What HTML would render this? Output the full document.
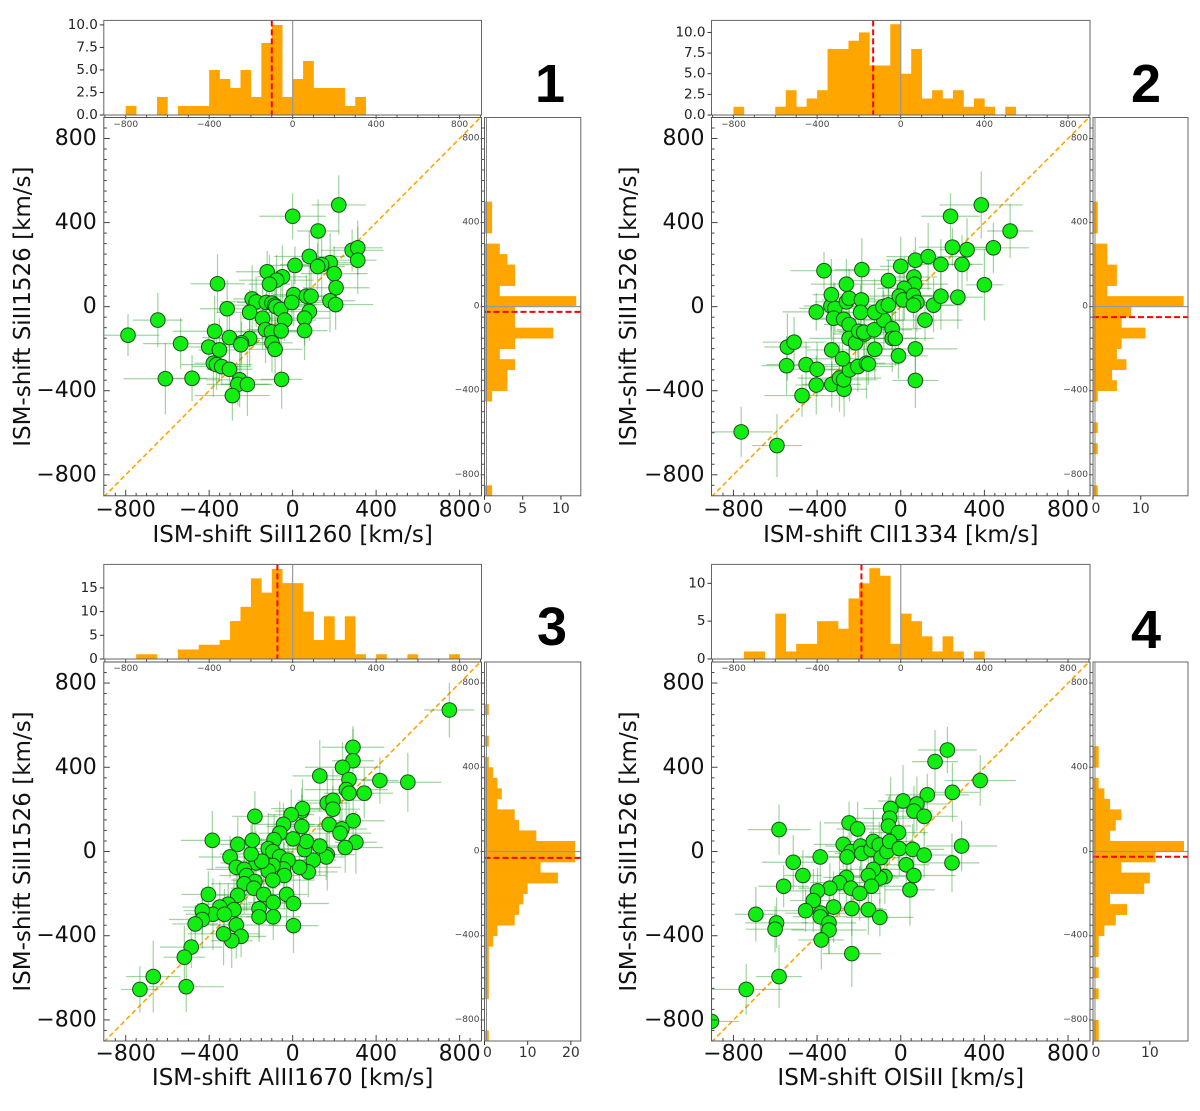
<!DOCTYPE html>
<html><head><meta charset="utf-8">
<style>
body{margin:0;background:#fff;}
svg{display:block;font-family:"DejaVu Sans","Liberation Sans",sans-serif;}
</style></head>
<body>
<svg id="chart" width="1200" height="1111" viewBox="0 0 1200 1111" xmlns="http://www.w3.org/2000/svg"></svg>
<script>
// ---------- Panel 1 data ----------
const p1X = [221,0,122,285,312,312,80,11,180,139,120,199,-122,-49,-77,-111,-360,208,5,66,88,-194,-175,-126,-99,-86,-80,-57,-4,179,206,80,-314,-206,-144,-38,57,-130,-102,-55,57,-374,-303,-206,-245,-248,-537,-99,-84,-402,-351,-789,-646,-380,-365,-340,-303,-610,-482,-254,-263,-217,-289,-53];
const p1Y = [484,430,360,268,280,221,239,196,209,200,191,157,166,142,126,107,109,90,57,50,50,37,23,20,17,7,0,-13,20,28,10,-23,-10,-27,-55,-64,-55,-109,-120,-115,-114,-117,-147,-152,-172,-181,-176,-172,-203,-192,-206,-136,-64,-269,-276,-285,-298,-343,-341,-348,-370,-370,-423,-346];
const p1XErr = [130,160,100,150,120,90,170,140,110,200,130,160,150,120,180,100];
const p1YErr = [140,110,150,100,130,160,120,90,140,170,110,130,100,150,120,140];
const p1TopCounts = [0,0,1,0,0,2,0,1,1,1,5,4,3,5,2,8,10,2,4,6,3,3,3,1,2,0,0,0,0,0,0,0,0,0,0,0];
const p1RightCounts = [1,0,0,0,0,0,0,0,0,1,3,3,4,2,4,9,4,4,12,2,4,4,3,2,0,1,1,1,0,0,0,0,0,0,0,0];
const p1Mean = [-100,-25];
// ---------- Panel 2 data ----------
const p2X = [-763,-592,-472,-404,-330,-293,-271,-273,-245,-205,-164,-155,-546,-453,-400,-542,-510,-330,-278,-124,-11,70,70,-404,-334,-315,-321,-273,-247,-247,-216,-201,-173,-177,-127,-81,-41,-41,-26,-367,-186,-260,-332,-260,-247,-188,-192,-125,-85,-59,-59,0,70,131,63,66,17,-7,11,61,77,61,157,192,192,273,116,293,238,385,523,247,317,443,400];
const p2Y = [-596,-661,-423,-373,-370,-340,-393,-348,-301,-285,-269,-273,-281,-276,-298,-192,-169,-206,-248,-203,-234,-201,-351,-25,3,-8,-55,-60,-85,-151,-172,-117,-130,-122,-110,-64,-105,-151,-151,171,176,107,57,23,40,32,-27,-27,0,8,124,192,221,238,141,107,87,50,32,54,20,7,7,50,201,45,-64,201,430,484,360,283,271,280,104];
const p2XErr = [150,120,180,100,140,200,110,160,130,170,90,150,120,190,140,110];
const p2YErr = [120,150,100,140,110,160,130,90,150,120,170,100,140,110,130,160];
const p2TopCounts = [0,0,1,0,0,0,1,3,1,2,3,8,8,9,10,6,6,11,5,8,2,3,2,3,1,2,1,0,1,0,0,0,0,0,0,0];
const p2RightCounts = [1,0,0,0,1,0,1,0,0,1,5,4,7,5,6,11,6,8,19,3,5,5,3,3,0,1,1,1,0,0,0,0,0,0,0,0];
const p2Mean = [-132,-50];
// ---------- Panel 3 data ----------
const p3X = [751,289,289,239,130,418,552,270,343,257,270,166,193,193,290,175,236,227,303,252,166,161,130,99,75,33,57,66,44,44,47,-7,2,-44,-62,-89,-117,-95,-62,-22,-44,-40,-95,-117,-175,-148,-199,-193,-263,-300,-270,-232,-221,-181,-232,-186,-139,-95,-93,-29,4,-93,-161,-161,-263,-309,-281,-349,-382,-433,-433,-467,-327,-270,-247,-292,-331,-404,-385,-181,4,-486,-519,-510,-668,-732];
const p3Y = [672,495,431,400,359,337,329,342,277,294,277,230,243,201,146,128,107,87,44,19,-15,-26,26,-41,-97,-75,9,48,119,192,204,175,60,129,87,56,14,0,-24,-41,-83,-114,-66,-92,-54,-46,-12,53,34,-26,-75,-85,-114,-143,-153,-174,-204,-136,-242,-204,-247,-310,-272,-310,-208,-250,-276,-264,-298,-281,-323,-344,-298,-349,-403,-424,-391,-204,53,167,-352,-454,-502,-642,-594,-655];
const p3XErr = [120,150,100,180,130,90,160,110,140,200,120,100,170,130,150,110];
const p3YErr = [130,100,150,120,170,110,140,90,120,160,100,130,150,110,140,120];
const p3TopCounts = [0,0,0,1,1,0,0,2,2,3,3,4,8,11,17,14,19,16,16,10,4,9,4,9,1,0,1,0,0,1,0,0,0,1,0,0];
const p3RightCounts = [1,0,0,0,1,1,1,1,1,2,3,7,8,9,10,17,13,21,21,12,8,7,3,4,3,2,1,0,1,0,0,1,0,0,0,0];
const p3Mean = [-73,-30];
// ---------- Panel 4 data ----------
const p4X = [223,164,380,247,127,11,77,63,112,-48,-53,-59,-11,-247,-206,-582,-275,-238,-192,-186,-256,-385,-514,-468,-142,-131,-103,-94,-66,-53,-7,57,112,26,291,245,63,44,-76,-100,-131,-155,-140,-260,-293,-238,-196,-339,-398,-418,-382,-385,-455,-321,-234,-155,-100,-343,-343,-380,-234,-560,-693,-594,-601,-582,-739,-905];
const p4Y = [482,427,337,281,269,240,226,192,167,204,158,121,90,136,107,104,34,0,26,-9,-26,-26,-51,-114,10,48,31,-29,0,48,14,10,-17,-63,26,-54,-114,-182,-119,-126,-85,-114,-165,-123,-148,-174,-199,-174,-187,-233,-293,-310,-281,-264,-271,-276,-313,-339,-373,-420,-485,-165,-298,-339,-369,-594,-655,-807];
const p4XErr = [140,110,170,130,200,120,150,90,160,130,180,110,140,120,100,150];
const p4YErr = [110,150,120,140,100,170,130,120,90,150,110,140,160,100,130,120];
const p4TopCounts = [0,0,0,1,1,0,6,1,2,2,5,5,4,8,10,12,11,2,6,5,3,1,3,1,0,1,0,0,0,0,0,0,0,0,0,0];
const p4RightCounts = [1,1,0,0,1,0,1,0,1,1,2,4,6,3,9,10,5,11,16,3,4,5,3,2,1,0,1,1,0,0,0,0,0,0,0,0];
const p4Mean = [-188,-25];
// ---------- shared axis data ----------
const binStart = -900, binWidth = 50;
const mainTicks = [-800,-400,0,400,800];
const mainTickLabels = ["\u2212800","\u2212400","0","400","800"];
const smallTickLabels = ["\u2212800","\u2212400","0","400","800"];

const NS = "http://www.w3.org/2000/svg";
const svg = document.getElementById('chart');
function mk(tag, attrs, parent, text){
  const e = document.createElementNS(NS, tag);
  for (const k in attrs) e.setAttribute(k, attrs[k]);
  if (text !== undefined) e.textContent = text;
  (parent || svg).appendChild(e);
  return e;
}

const panels = [
  {id:1, xs:p1X, ys:p1Y, xe:p1XErr, ye:p1YErr, top:p1TopCounts, right:p1RightCounts, mean:p1Mean,
   xtitle:"ISM-shift SiII1260 [km/s]", topTicks:[0,2.5,5,7.5,10], topLabels:["0.0","2.5","5.0","7.5","10.0"], topMax:10.5,
   rightTicks:[0,5,10], rightMax:12.6,
   mx0:103.8, mx1:481.5, my0:117.5, my1:495.8, ty0:20.4, ty1:115, rx0:484.5, rx1:580.8, lx:550, ly:84, xly:510, xty:535, yty:23},
  {id:2, xs:p2X, ys:p2Y, xe:p2XErr, ye:p2YErr, top:p2TopCounts, right:p2RightCounts, mean:p2Mean,
   xtitle:"ISM-shift CII1334 [km/s]", topTicks:[0,2.5,5,7.5,10], topLabels:["0.0","2.5","5.0","7.5","10.0"], topMax:11.46,
   rightTicks:[0,10], rightMax:19.9,
   mx0:711.5, mx1:1090, my0:117.5, my1:495.8, ty0:20.4, ty1:115, rx0:1093, rx1:1188, lx:1146, ly:84, xly:510, xty:535, yty:629},
  {id:3, xs:p3X, ys:p3Y, xe:p3XErr, ye:p3YErr, top:p3TopCounts, right:p3RightCounts, mean:p3Mean,
   xtitle:"ISM-shift AlII1670 [km/s]", topTicks:[0,5,10,15], topLabels:["0","5","10","15"], topMax:19.95,
   rightTicks:[0,10,20], rightMax:22.3,
   mx0:103.8, mx1:481.5, my0:662, my1:1041, ty0:564.4, ty1:659, rx0:484.5, rx1:580.8, lx:552, ly:627, xly:1054, xty:1078, yty:23},
  {id:4, xs:p4X, ys:p4Y, xe:p4XErr, ye:p4YErr, top:p4TopCounts, right:p4RightCounts, mean:p4Mean,
   xtitle:"ISM-shift OISiII [km/s]", topTicks:[0,5,10], topLabels:["0","5","10"], topMax:12.5,
   rightTicks:[0,10], rightMax:16.7,
   mx0:711.5, mx1:1090, my0:662, my1:1041, ty0:564.4, ty1:659, rx0:1093, rx1:1188, lx:1146, ly:630, xly:1054, xty:1078, yty:629}
];

const XMIN=-905, XMAX=905, YMIN=-900, YMAX=900;

panels.forEach(p => {
  const g = mk('g', {});
  
  
  const sx = v => p.mx0 + (v - XMIN) / (XMAX - XMIN) * (p.mx1 - p.mx0);
  const sy = v => p.my1 - (v - YMIN) / (YMAX - YMIN) * (p.my1 - p.my0);
  const tyS = c => p.ty1 - c / p.topMax * (p.ty1 - p.ty0);
  const rxS = c => p.rx0 + c / p.rightMax * (p.rx1 - p.rx0);

  // ---- top histogram ----
  const tg = mk('g', {}, g);
  
  
  p.top.forEach((c, i) => {
    if (!c) return;
    const a = binStart + i*binWidth, b = a + binWidth;
    const r = mk('rect', {x:sx(a), y:tyS(c), width:sx(b)-sx(a)+0.3, height:p.ty1-tyS(c), fill:'#ffa500'}, tg);
    
    
  });
  mk('line', {x1:sx(0), x2:sx(0), y1:p.ty0, y2:p.ty1, stroke:'#999', 'stroke-width':1.2}, tg);
  const tm = mk('line', {x1:sx(p.mean[0]), x2:sx(p.mean[0]), y1:p.ty0, y2:p.ty1, stroke:'#ff0000', 'stroke-width':2, 'stroke-dasharray':'6,3'}, tg);
  
  
  mk('rect', {x:p.mx0, y:p.ty0, width:p.mx1-p.mx0, height:p.ty1-p.ty0, fill:'none', stroke:'#666', 'stroke-width':1}, tg);
  p.topTicks.forEach((t, i) => {
    mk('line', {x1:p.mx0-4, x2:p.mx0, y1:tyS(t), y2:tyS(t), stroke:'#333'}, tg);
    const tl = mk('text', {x:p.mx0-6, y:tyS(t), 'text-anchor':'end', 'dominant-baseline':'central', 'font-size':13.5, fill:'#222'}, tg, p.topLabels[i]);
    
    
  });
  for (let v = -900; v <= 900; v += 100) {
    mk('line', {x1:sx(v), x2:sx(v), y1:p.ty1, y2:p.ty1+(v%400===0?4:3), stroke:'#555'}, tg);
  }
  mainTicks.forEach((t, i) => {
    const tl = mk('text', {x:sx(t), y:p.ty1+10, 'text-anchor':'middle', 'dominant-baseline':'central', 'font-size':9, fill:'#444'}, tg, smallTickLabels[i]);
    
    
  });

  // ---- right histogram ----
  const rg = mk('g', {}, g);
  
  
  p.right.forEach((c, i) => {
    if (!c) return;
    const a = binStart + i*binWidth, b = a + binWidth;
    const r = mk('rect', {x:p.rx0, y:sy(b), width:rxS(c)-p.rx0, height:sy(a)-sy(b)+0.3, fill:'#ffa500'}, rg);
    
    
  });
  mk('line', {x1:p.rx0, x2:p.rx1, y1:sy(0), y2:sy(0), stroke:'#999', 'stroke-width':1.2}, rg);
  const rm = mk('line', {x1:p.rx0, x2:p.rx1, y1:sy(p.mean[1]), y2:sy(p.mean[1]), stroke:'#ff0000', 'stroke-width':2, 'stroke-dasharray':'6,3'}, rg);
  
  
  mk('rect', {x:p.rx0, y:p.my0, width:p.rx1-p.rx0, height:p.my1-p.my0, fill:'none', stroke:'#666', 'stroke-width':1}, rg);
  mk('line', {x1:p.rx0+2, x2:p.rx0+2, y1:p.my0, y2:p.my1, stroke:'#888', 'stroke-width':1}, rg);
  for (let v = -850; v <= 850; v += 50) {
    mk('line', {x1:p.rx0-(v%400===0?4:3), x2:p.rx0, y1:sy(v), y2:sy(v), stroke:'#555'}, rg);
  }
  mainTicks.forEach((t, i) => {
    const tl = mk('text', {x:p.rx0-5, y:sy(t), 'text-anchor':'end', 'dominant-baseline':'central', 'font-size':9, fill:'#444'}, rg, smallTickLabels[i]);
    
    
  });
  p.rightTicks.forEach(t => {
    mk('line', {x1:rxS(t), x2:rxS(t), y1:p.my1, y2:p.my1+4, stroke:'#333'}, rg);
    const tl = mk('text', {x:rxS(t)+(t===0?3:0), y:p.xly-1, 'text-anchor':'middle', 'dominant-baseline':'central', 'font-size':14, fill:'#333'}, rg, String(t));
    
    
  });

  // ---- main scatter ----
  const mg = mk('g', {}, g);
  
  
  const clipId = 'clip' + p.id;
  const cp = mk('clipPath', {id:clipId}, mg);
  mk('rect', {x:p.mx0, y:p.my0, width:p.mx1-p.mx0, height:p.my1-p.my0}, cp);
  const inner = mk('g', {'clip-path':'url(#'+clipId+')'}, mg);
  const diag = mk('line', {x1:sx(XMIN), y1:sy(XMIN), x2:sx(XMAX), y2:sy(XMAX), stroke:'#ffa500', 'stroke-width':1.6, 'stroke-dasharray':'5,3'}, inner);
  
  
  p.xs.forEach((x, i) => {
    const y = p.ys[i];
    const xe = p.xe[i % p.xe.length], ye = p.ye[i % p.ye.length];
    const eb = mk('path', {d:`M${sx(x-xe)},${sy(y)}H${sx(x+xe)}M${sx(x)},${sy(y-ye)}V${sy(y+ye)}`, stroke:'#2ca02c', 'stroke-opacity':0.45, 'stroke-width':1.2, fill:'none'}, inner);
    
    
  });
  p.xs.forEach((x, i) => {
    const c = mk('circle', {cx:sx(x), cy:sy(p.ys[i]), r:7.3, fill:'#11ee11', stroke:'#1a4d1a', 'stroke-width':1}, inner);
    
    
  });
  mk('rect', {x:p.mx0, y:p.my0, width:p.mx1-p.mx0, height:p.my1-p.my0, fill:'none', stroke:'#555', 'stroke-width':1}, mg);
  for (let v = -850; v <= 850; v += 50) {
    const len = v % 400 === 0 ? 6 : 3;
    mk('line', {x1:sx(v), x2:sx(v), y1:p.my1, y2:p.my1-len, stroke:'#444'}, mg);
    mk('line', {x1:p.mx0, x2:p.mx0+len, y1:sy(v), y2:sy(v), stroke:'#444'}, mg);
  }
  mainTicks.forEach((t, i) => {
    const xl = mk('text', {x:sx(t), y:p.xly, 'text-anchor':'middle', 'dominant-baseline':'central', 'font-size':22, fill:'#111'}, mg, mainTickLabels[i]);
    
    
    const yl = mk('text', {x:p.mx0-7, y:sy(t), 'text-anchor':'end', 'dominant-baseline':'central', 'font-size':22, fill:'#111'}, mg, mainTickLabels[i]);
    
    
  });
  const xt = mk('text', {x:(p.mx0+p.mx1)/2, y:p.xty, 'text-anchor':'middle', 'dominant-baseline':'central', 'font-size':23, fill:'#111'}, mg, p.xtitle);
  
  
  const ycy = (p.my0+p.my1)/2;
  const yt = mk('text', {x:p.yty, y:ycy, transform:`rotate(-90 ${p.yty} ${ycy})`, 'text-anchor':'middle', 'dominant-baseline':'central', 'font-size':23, fill:'#111'}, mg, "ISM-shift SiII1526 [km/s]");
  
  

  const lab = mk('text', {x:p.lx, y:p.ly, 'text-anchor':'middle', 'dominant-baseline':'central', 'font-size':54, 'font-weight':'bold', 'font-family':'Liberation Sans, sans-serif', fill:'#000'}, g, String(p.id));
  
  
});
</script>
</body></html>
